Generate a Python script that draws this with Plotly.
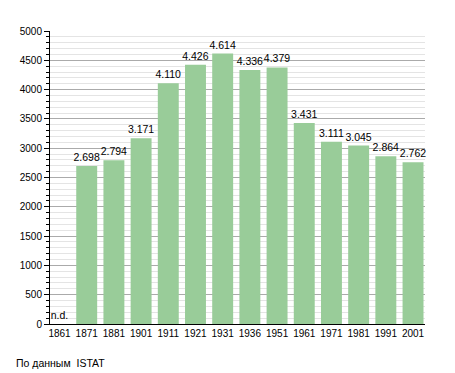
import plotly.graph_objects as go

years = ["1861", "1871", "1881", "1901", "1911", "1921", "1931", "1936", "1951", "1961", "1971", "1981", "1991", "2001"]
population = [0, 2698, 2794, 3171, 4110, 4426, 4614, 4336, 4379, 3431, 3111, 3045, 2864, 2762]
labels = ["n.d.", "2.698", "2.794", "3.171", "4.110", "4.426", "4.614", "4.336", "4.379", "3.431", "3.111", "3.045", "2.864", "2.762"]
y_ticks = [0, 500, 1000, 1500, 2000, 2500, 3000, 3500, 4000, 4500, 5000]
source_note = "По данным  ISTAT"

fig = go.Figure(go.Bar(
    x=years, y=population, text=labels, textposition="outside",
    marker=dict(color="#99cc99", line=dict(width=0)),
    textfont=dict(size=10.5, color="#000"),
    cliponaxis=False, width=0.77,
))

fig.update_layout(
    width=447, height=365,
    margin=dict(l=42, r=30, t=23, b=49),
    paper_bgcolor="white", plot_bgcolor="white",
    font=dict(family="Liberation Sans, Arial, sans-serif", size=10, color="#000"),
    showlegend=False,
    uniformtext=dict(minsize=10, mode="show"),
    annotations=[dict(text=source_note, xref="paper", yref="paper", x=-0.095, y=-0.105,
                      xanchor="left", yanchor="top", showarrow=False,
                      font=dict(size=10.5, color="#000"))],
)
fig.update_xaxes(type="category", range=[-0.35, 13.44], showline=True, linecolor="#000", linewidth=1,
                 ticks="", showgrid=False, tickfont=dict(size=10))
fig.update_yaxes(range=[0, 5000], tickvals=y_ticks, showline=True, linecolor="#000", linewidth=1,
                 ticks="outside", ticklen=5, tickcolor="#000",
                 showgrid=True, gridcolor="#aaaaaa", gridwidth=1, zeroline=False,
                 minor=dict(dtick=100, ticks="outside", ticklen=3, tickcolor="#000",
                            showgrid=True, gridcolor="#e4e4e4", gridwidth=1),
                 tickfont=dict(size=10))

fig.write_html("out.html")
